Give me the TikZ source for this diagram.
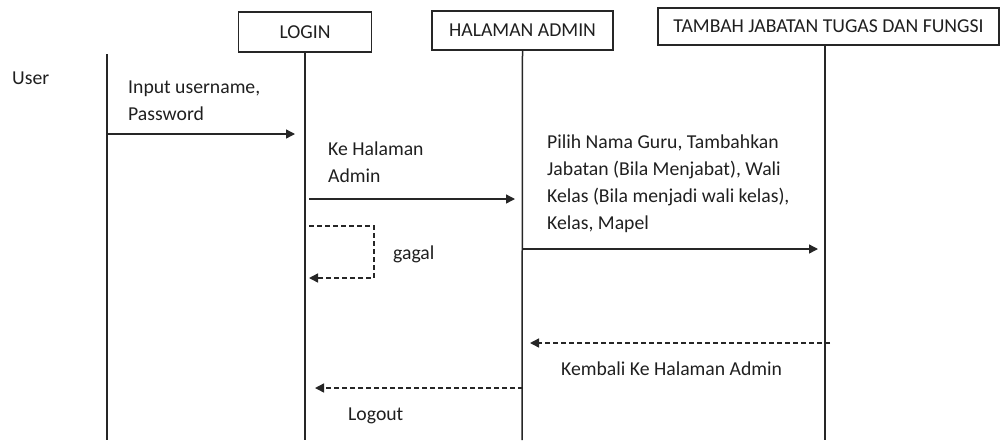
\documentclass[tikz,border=0pt]{standalone}
\usepackage{fontspec}
\setmainfont{Carlito}
\usetikzlibrary{arrows.meta}
\begin{document}
\begin{tikzpicture}[x=1pt,y=-1pt,
  every node/.style={font=\fontsize{19.7}{27}\selectfont, text=black!88},
  head/.style={draw=black!85, line width=1.4pt, inner sep=0pt},
  life/.style={draw=black!85, line width=1.5pt},
  msg/.style={draw=black!85, line width=1.4pt, -{Triangle[length=9pt,width=9pt]}},
  reply/.style={msg, dash pattern=on 5pt off 3pt},
  lbl/.style={anchor=base west, align=left, inner sep=0pt}]
\useasboundingbox (0,0) rectangle (1001,440);

% participant boxes
\node[head, minimum width=133pt, minimum height=40pt] (login) at (305,32) {LOGIN};
\node[head, minimum width=181pt, minimum height=39pt] (admin) at (522.5,30.5) {HALAMAN ADMIN};
\node[head, minimum width=341pt, minimum height=37pt] (tambah) at (828.5,26.5) {TAMBAH JABATAN TUGAS DAN FUNGSI};
\node[lbl] (user) at (12,84) {User};

% lifelines
\coordinate (userTop) at (107,54);
\coordinate (userEnd) at (107,440);
\coordinate (loginEnd) at (305,440);
\coordinate (adminEnd) at (522,440);
\coordinate (tambahTop) at (825,45);
\coordinate (tambahEnd) at (825,440);
\draw[life] (userTop) -- (userEnd);
\draw[life] (login.south) -- (loginEnd);
\draw[life] (admin.south) -- (adminEnd);
\draw[life] (tambahTop) -- (tambahEnd);

% message end points
\coordinate (m1a) at (107,134);  \coordinate (m1b) at (295,134);
\coordinate (m2a) at (309,199);  \coordinate (m2b) at (515,199);
\coordinate (g1) at (309,226);   \coordinate (g2) at (374,226);
\coordinate (g3) at (374,278);   \coordinate (g4) at (309,278);
\coordinate (m3a) at (522,249);  \coordinate (m3b) at (818,249);
\coordinate (m4a) at (830,343);  \coordinate (m4b) at (530,343);
\coordinate (m5a) at (523,388);  \coordinate (m5b) at (315,388);

% messages
\draw[msg] (m1a) -- (m1b);
\draw[msg] (m2a) -- (m2b);
\draw[reply] (g1) -- (g2) -- (g3) -- (g4);
\draw[msg] (m3a) -- (m3b);
\draw[reply] (m4a) -- (m4b);
\draw[reply] (m5a) -- (m5b);

% message labels (base anchor sits on the last line)
\node[lbl] (t1) at (128,120) {Input username,\\Password};
\node[lbl] (t2) at (328,182) {Ke Halaman\\Admin};
\node[lbl] (t3) at (393,259) {gagal};
\node[lbl] (t4) at (547,229) {Pilih Nama Guru, Tambahkan\\Jabatan (Bila Menjabat), Wali\\Kelas (Bila menjadi wali kelas),\\Kelas, Mapel};
\node[lbl] (t5) at (561,375) {Kembali Ke Halaman Admin};
\node[lbl] (t6) at (348,420) {Logout};
\end{tikzpicture}
\end{document}
